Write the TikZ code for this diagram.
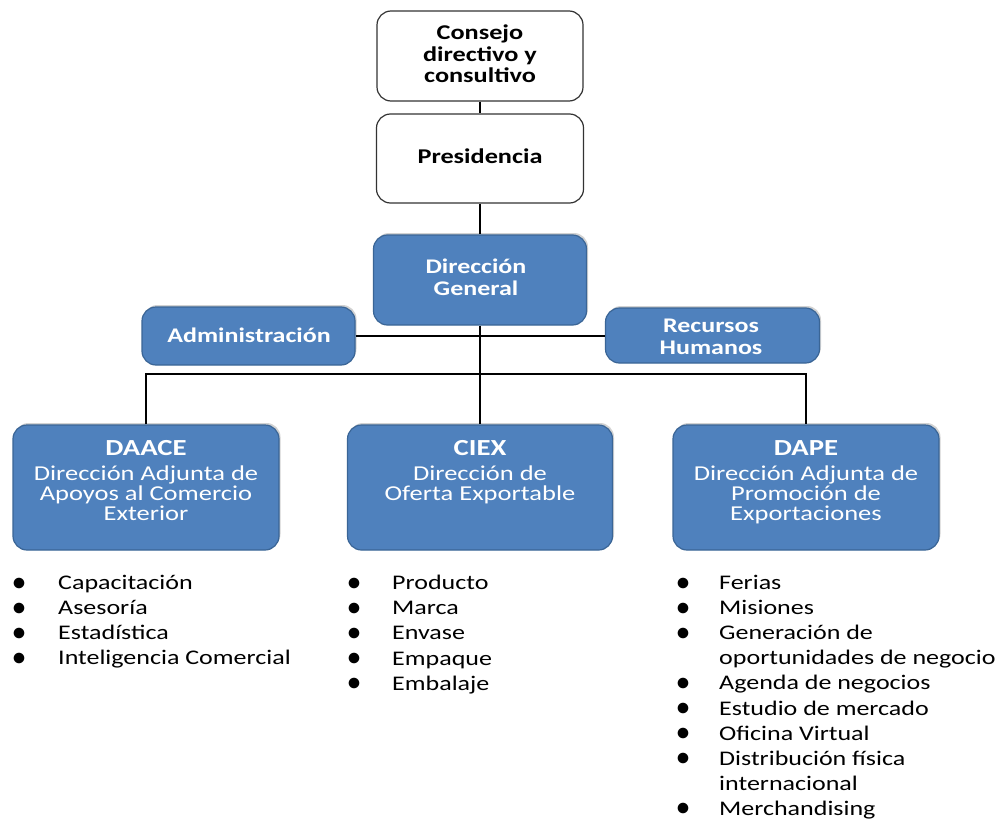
\documentclass[tikz,border=0pt]{standalone}
\usepackage{fontspec}
\setmainfont{Carlito}[FakeStretch=1.25]
\newfontfamily\bulletfont{Carlito}
\usetikzlibrary{shadows}
\definecolor{boxblue}{HTML}{4F81BD}
\definecolor{boxedge}{HTML}{3A6596}
\begin{document}
\begin{tikzpicture}[x=1pt,y=-1pt,
  whitebox/.style={draw=black!80, line width=1.2pt, rounded corners=14pt, fill=white, inner sep=0pt},
  bluebox/.style={draw=boxedge, line width=1.2pt, rounded corners=14pt, fill=boxblue, inner sep=0pt,
     drop shadow={opacity=0.35, shadow xshift=1.5pt, shadow yshift=2pt}},
  wtext/.style={text=white, font=\fontsize{20.8}{22}\selectfont\bfseries, align=center, inner sep=0pt, anchor=base},
  btext/.style={text=black, font=\fontsize{21}{21.5}\selectfont\bfseries, align=center, inner sep=0pt, anchor=base},
  headtext/.style={text=white, font=\fontsize{23}{24}\selectfont\bfseries, inner sep=0pt, anchor=base},
  deptext/.style={text=white, font=\fontsize{21.2}{20.3}\selectfont, align=center, inner sep=0pt, anchor=base},
  item/.style={font=\fontsize{20.8}{20}\selectfont, anchor=base west, inner sep=0pt},
  dot/.style={font=\bulletfont\fontsize{25}{20}\selectfont\bfseries, anchor=base, inner sep=0pt},
  conn/.style={line width=1.3pt, black}]
\useasboundingbox (0,0) rectangle (1000,821);
\fill[white] (0,0) rectangle (1000,821);

% top boxes (text nodes: anchor=base is the last line's baseline)
\node[whitebox, minimum width=206pt, minimum height=90pt] (consejo) at (480,56) {};
\node[btext] (consejoT) at (480,83) {Consejo\\directivo y\\consultivo};
\node[whitebox, minimum width=207pt, minimum height=89pt] (pres) at (480,158.5) {};
\node[btext] (presT) at (480,164) {Presidencia};

% direction general
\node[bluebox, minimum width=213pt, minimum height=90pt] (dg) at (480,280) {};
\node[wtext] (dgT) at (476,295) {Dirección\\General};

\node[bluebox, minimum width=213pt, minimum height=58pt] (adm) at (248.5,336) {};
\node[wtext] (admT) at (249,342) {Administración};
\node[bluebox, minimum width=214pt, minimum height=55pt] (rh) at (712.5,335.5) {};
\node[wtext] (rhT) at (711,354) {Recursos\\Humanos};

% department boxes
\node[bluebox, minimum width=266pt, minimum height=125pt] (daace) at (146,487.5) {};
\node[bluebox, minimum width=265pt, minimum height=125pt] (ciex) at (480,487.5) {};
\node[bluebox, minimum width=266pt, minimum height=125pt] (dape) at (806,487.5) {};

\node[headtext] (daaceH) at (146,455) {DAACE};
\node[deptext] (daaceT) at (146,520.6) {Dirección Adjunta de\\Apoyos al Comercio\\Exterior};
\node[headtext] (ciexH) at (480,455) {CIEX};
\node[deptext] (ciexT) at (480,500.3) {Dirección de\\Oferta Exportable};
\node[headtext] (dapeH) at (806,455) {DAPE};
\node[deptext] (dapeT) at (806,520.6) {Dirección Adjunta de\\Promoción de\\Exportaciones};

% connectors
\draw[conn] (consejo.south) -- (pres.north);
\draw[conn] (pres.south) -- (dg.north);
\draw[conn] (adm.east) -- (adm.east -| rh.west);
\coordinate (bar) at (480,374);
\draw[conn] (dg.south) -- (ciex.north);
\draw[conn] (daace.north) -- (daace.north |- bar) -- (dape.north |- bar) -- (dape.north);

% lists
\foreach \t [count=\i] in {Capacitación, Asesoría, Estadística, Inteligencia Comercial}{
  \node[dot] (lb\i) at (19,{590+25*(\i-1)}) {•};
  \node[item] (li\i) at (58,{589.5+25*(\i-1)}) {\t};
}
\foreach \t [count=\i] in {Producto, Marca, Envase, Empaque, Embalaje}{
  \node[dot] (mb\i) at (354,{590+25.2*(\i-1)}) {•};
  \node[item] (mi\i) at (392,{589.5+25.2*(\i-1)}) {\t};
}
\foreach \t/\b [count=\i] in {Ferias/1, Misiones/1, Generación de/1, oportunidades de negocio/0, Agenda de negocios/1, Estudio de mercado/1, Oficina Virtual/1, Distribución física/1, internacional/0, Merchandising/1}{
  \ifnum\b=1 \node[dot] (rb\i) at (683,{590+25.1*(\i-1)}) {•};\fi
  \node[item] (ri\i) at (719,{589.5+25.1*(\i-1)}) {\t};
}
\end{tikzpicture}
\end{document}
